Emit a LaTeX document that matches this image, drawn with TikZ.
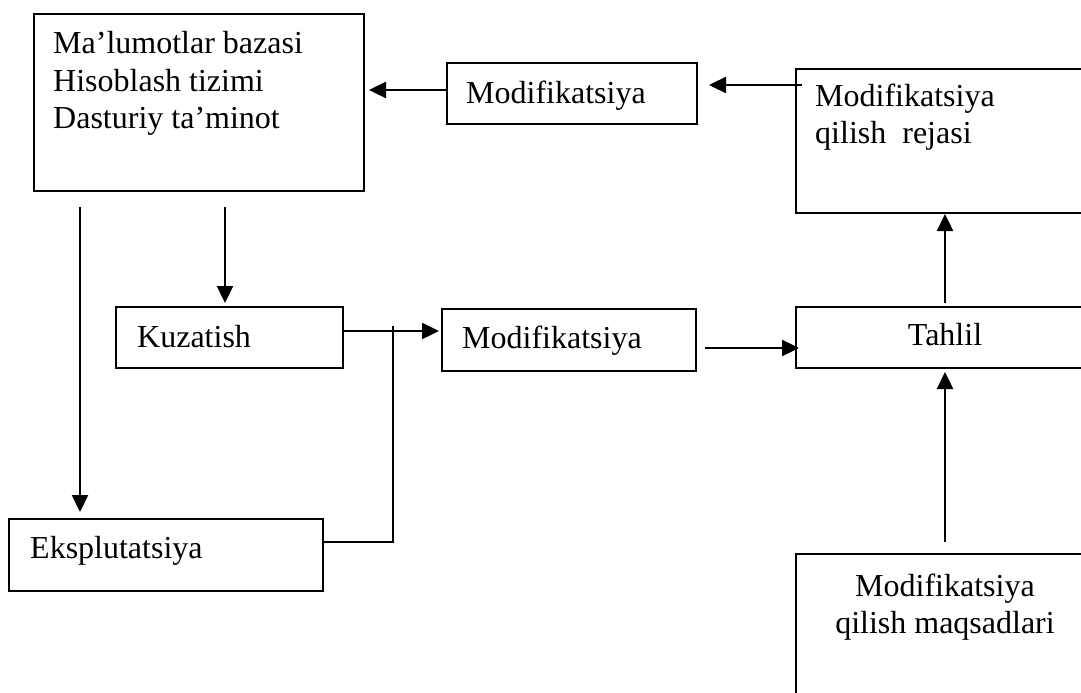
\documentclass[tikz,border=0pt]{standalone}
\usepackage{fontspec}
\setmainfont{Liberation Serif}
\usetikzlibrary{arrows.meta,calc}

\tikzset{
  x=1pt, y=-1pt,
  box/.style={draw, line width=2pt, inner sep=0pt, anchor=north west},
  lbl/.style={inner sep=0pt, font=\fontsize{32}{37}\selectfont},
  arr/.style={line width=2.4pt, -{Triangle[length=17pt,width=16pt]}},
  wire/.style={line width=2pt}
}

\begin{document}
\begin{tikzpicture}
\useasboundingbox (0,0) rectangle (1081,693);
\clip (0,0) rectangle (1081,693);

% frames
\node[box, minimum width=330pt, minimum height=177pt] (base)  at (33,13)  {};
\node[box, minimum width=250pt, minimum height=61pt]  (mod1)  at (446,62) {};
\node[box, minimum width=300pt, minimum height=144pt] (plan)  at (795,68) {};
\node[box, minimum width=227pt, minimum height=61pt]  (kuz)   at (115,306) {};
\node[box, minimum width=254pt, minimum height=62pt]  (mod2)  at (441,308) {};
\node[box, minimum width=300pt, minimum height=61pt]  (tahlil) at (795,306) {};
\node[box, minimum width=314pt, minimum height=72pt]  (eks)   at (8,518) {};
\node[box, minimum width=300pt, minimum height=180pt] (goals) at (795,553) {};

% labels (multi-line labels are anchored on their last baseline)
\node[lbl, anchor=base west, align=left] (tbase) at (53,128)
  {Ma’lumotlar bazasi\\Hisoblash tizimi\\Dasturiy ta’minot};
\node[lbl, anchor=base west] (tmod1) at (466,103) {Modifikatsiya};
\node[lbl, anchor=base west, align=left] (tplan) at (815,143)
  {Modifikatsiya\\qilish\ \ rejasi};
\node[lbl, anchor=base west] (tkuz) at (137,347) {Kuzatish};
\node[lbl, anchor=base west] (tmod2) at (462,348) {Modifikatsiya};
\node[lbl, anchor=base] (ttahlil) at (945,345) {Tahlil};
\node[lbl, anchor=base west] (teks) at (30,558) {Eksplutatsiya};
\node[lbl, anchor=base, align=center] (tgoals) at (945,633)
  {Modifikatsiya\\qilish maqsadlari};

% connector end points
\coordinate (mod1Out) at ($(mod1.north west)+(0,28)$);
\coordinate (planOut) at ($(plan.north west)+(7,17)$);
\coordinate (baseA)   at ($(base.south west)+(47,15)$);
\coordinate (baseB)   at ($(base.south west)+(192,15)$);
\coordinate (kuzOut)  at ($(kuz.north east)+(0,25)$);
\coordinate (eksOut)  at ($(eks.north east)+(0,24)$);
\coordinate (joinTop) at (393,326);
\coordinate (mod2Out) at ($(mod2.north east)+(8,40)$);
\coordinate (tahUp)   at ($(tahlil.north west)+(150,-3)$);
\coordinate (goalsUp) at ($(goals.north west)+(150,-11)$);

% connectors
\draw[arr, shorten >=4pt] (mod1Out) -- (mod1Out -| base.east);
\draw[arr, shorten >=11pt] (planOut) -- (planOut -| mod1.east);
\draw[arr, shorten >=6pt] (baseA) -- (baseA |- eks.north);
\draw[arr, shorten >=3pt] (baseB) -- (baseB |- kuz.north);
\draw[arr, shorten >=2pt] (kuzOut) -- (kuzOut -| mod2.west);
\draw[wire] (eksOut) -| (joinTop);
\draw[arr, shorten >=-4pt] (mod2Out) -- (mod2Out -| tahlil.west);
\draw[arr] (tahUp) -- (tahUp |- plan.south);
\draw[arr, shorten >=3pt] (goalsUp) -- (goalsUp |- tahlil.south);
\end{tikzpicture}
\end{document}
